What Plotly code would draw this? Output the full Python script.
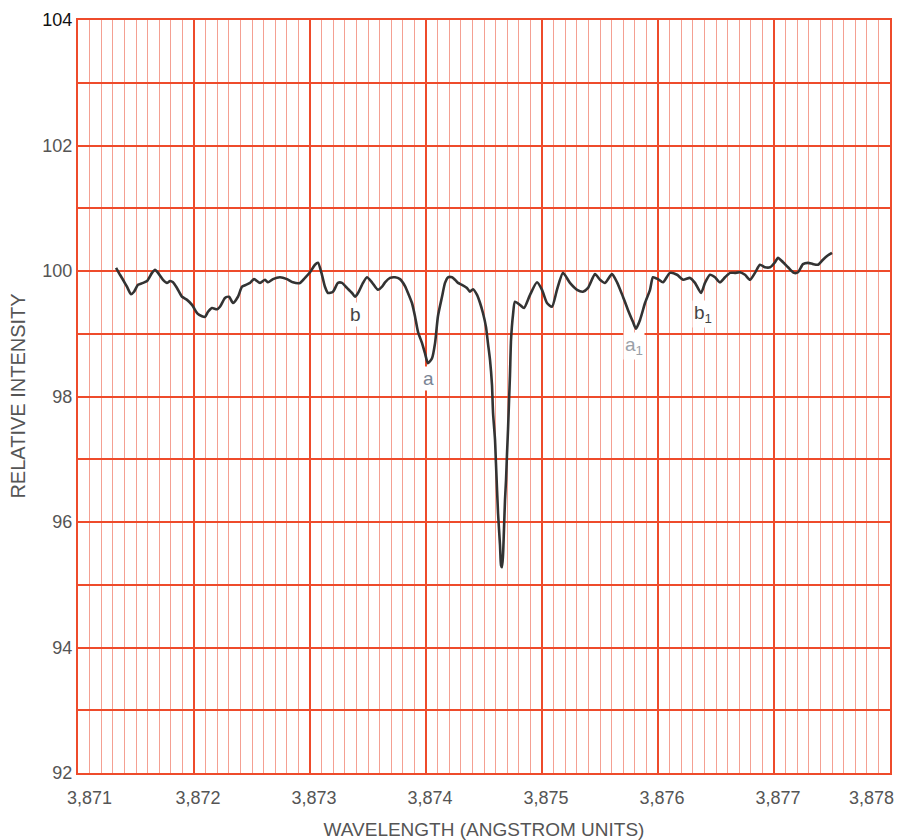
import plotly.graph_objects as go

# Wavelength (Angstrom) and relative intensity of the traced spectrum
wavelength = [
    3871.328, 3871.362, 3871.388, 3871.422, 3871.457, 3871.483, 3871.517, 3871.560, 3871.595, 3871.638,
    3871.664, 3871.690, 3871.733, 3871.767, 3871.793, 3871.819, 3871.853, 3871.897, 3871.940, 3871.983,
    3872.026, 3872.069, 3872.095, 3872.121, 3872.155, 3872.198, 3872.224, 3872.267, 3872.302, 3872.336,
    3872.379, 3872.414, 3872.448, 3872.483, 3872.517, 3872.569, 3872.612, 3872.638, 3872.681, 3872.741,
    3872.802, 3872.853, 3872.914, 3872.957, 3873.000, 3873.043, 3873.069, 3873.103, 3873.129, 3873.155,
    3873.198, 3873.241, 3873.276, 3873.319, 3873.362, 3873.388, 3873.414, 3873.457, 3873.491, 3873.534,
    3873.586, 3873.621, 3873.647, 3873.690, 3873.733, 3873.776, 3873.819, 3873.845, 3873.879, 3873.905,
    3873.931, 3873.966, 3873.991, 3874.017, 3874.052, 3874.078, 3874.103, 3874.138, 3874.164, 3874.190,
    3874.224, 3874.250, 3874.276, 3874.310, 3874.353, 3874.379, 3874.405, 3874.440, 3874.466, 3874.491,
    3874.517, 3874.534, 3874.552, 3874.569, 3874.578, 3874.595, 3874.603, 3874.621, 3874.638, 3874.647,
    3874.655, 3874.664, 3874.672, 3874.681, 3874.690, 3874.698, 3874.707, 3874.716, 3874.724, 3874.733,
    3874.750, 3874.767, 3874.810, 3874.845, 3874.897, 3874.957, 3875.000, 3875.043, 3875.086, 3875.129,
    3875.181, 3875.241, 3875.302, 3875.353, 3875.397, 3875.457, 3875.500, 3875.543, 3875.603, 3875.647,
    3875.698, 3875.741, 3875.784, 3875.810, 3875.845, 3875.888, 3875.931, 3875.957, 3876.000, 3876.043,
    3876.103, 3876.164, 3876.216, 3876.276, 3876.319, 3876.371, 3876.405, 3876.448, 3876.491, 3876.534,
    3876.578, 3876.621, 3876.664, 3876.707, 3876.750, 3876.793, 3876.836, 3876.879, 3876.922, 3876.966,
    3877.009, 3877.034, 3877.078, 3877.121, 3877.172, 3877.207, 3877.250, 3877.293, 3877.336, 3877.379,
    3877.422, 3877.466, 3877.500,
]
intensity = [
    100.05, 99.94, 99.86, 99.75, 99.63, 99.67, 99.78, 99.81, 99.84, 99.97,
    100.02, 99.97, 99.86, 99.81, 99.84, 99.82, 99.73, 99.59, 99.54, 99.46,
    99.33, 99.28, 99.27, 99.35, 99.41, 99.39, 99.43, 99.57, 99.59, 99.49,
    99.59, 99.75, 99.78, 99.81, 99.87, 99.81, 99.86, 99.82, 99.87, 99.90,
    99.87, 99.82, 99.81, 99.89, 99.98, 100.10, 100.13, 99.94, 99.75, 99.65,
    99.67, 99.81, 99.81, 99.73, 99.65, 99.59, 99.65, 99.81, 99.90, 99.82,
    99.70, 99.75, 99.82, 99.89, 99.90, 99.87, 99.76, 99.65, 99.49, 99.28,
    99.03, 98.85, 98.69, 98.53, 98.61, 98.85, 99.28, 99.59, 99.81, 99.90,
    99.90, 99.86, 99.81, 99.78, 99.73, 99.67, 99.71, 99.62, 99.49, 99.33,
    99.11, 98.85, 98.58, 98.18, 97.74, 97.31, 96.94, 96.14, 95.63, 95.31,
    95.28, 95.47, 95.87, 96.35, 96.67, 97.07, 97.47, 97.94, 98.34, 98.90,
    99.30, 99.51, 99.46, 99.41, 99.62, 99.82, 99.70, 99.49, 99.43, 99.70,
    99.97, 99.81, 99.70, 99.67, 99.73, 99.95, 99.86, 99.81, 99.95, 99.82,
    99.59, 99.38, 99.19, 99.08, 99.22, 99.49, 99.70, 99.90, 99.87, 99.82,
    99.97, 99.94, 99.86, 99.89, 99.81, 99.65, 99.81, 99.94, 99.90, 99.82,
    99.90, 99.97, 99.97, 99.98, 99.94, 99.86, 99.97, 100.10, 100.06, 100.06,
    100.14, 100.21, 100.14, 100.06, 99.97, 99.98, 100.11, 100.13, 100.11, 100.10,
    100.18, 100.25, 100.29,
]

# Axis ticks
x_tickvals = [3871, 3872, 3873, 3874, 3875, 3876, 3877, 3878]
x_ticktext = ["\u00a0\u00a0\u00a03,871", "3,872", "3,873", "3,874", "3,875", "3,876", "3,877",
              "3,878" + "\u00a0" * 9]
y_tickvals = [92, 94, 96, 98, 100, 102, 104]
y_ticktext = ["92", "94", "96", "98", "100", "102", '<span style="color:#111">104</span>']

# Line labels
label_text = ["b", "a", "a<sub>1</sub>", "b<sub>1</sub>"]
label_x = [3873.39, 3874.02, 3875.79, 3876.39]
label_y = [99.30, 98.29, 98.80, 99.31]
label_color = ["#444444", "#7a8494", "#9aa0a8", "#444444"]

GRID = "#ee4b2b"
MINOR = "#f4a092"
FONT = "Liberation Sans, Arial, sans-serif"

fig = go.Figure()
fig.add_trace(go.Scatter(
    x=wavelength, y=intensity, mode="lines",
    line=dict(color="#333333", width=2.6, shape="spline", smoothing=0.6),
    hoverinfo="skip", showlegend=False,
))

for t, x, y, c in zip(label_text, label_x, label_y, label_color):
    fig.add_annotation(x=x, y=y, text=t, showarrow=False,
                       font=dict(family=FONT, size=19, color=c),
                       bgcolor="white", borderpad=1)

# y-axis title, placed further left than an axis title can go
fig.add_annotation(x=-0.075, y=0.5, xref="paper", yref="paper",
                   text="RELATIVE INTENSITY", textangle=-90, showarrow=False,
                   xanchor="center", yanchor="middle",
                   font=dict(family=FONT, size=20, color="#555555"))

# the page body adds an 8px offset, so the figure is sized to fit the 905x840 window
fig.update_layout(
    width=897, height=832,
    margin=dict(l=70, r=15, t=12, b=67),
    paper_bgcolor="white", plot_bgcolor="white",
    font=dict(family=FONT, color="#555555", size=18),
    xaxis=dict(
        range=[3871, 3878], tickvals=x_tickvals, ticktext=x_ticktext,
        automargin=False, ticklabeloverflow="allow",
        showgrid=True, gridcolor=GRID, gridwidth=2,
        minor=dict(dtick=0.1, tick0=3871, showgrid=True, gridcolor=MINOR, gridwidth=1.2),
        showline=True, linecolor=GRID, linewidth=2, mirror=True,
        zeroline=False, ticks="", ticklabelshift=4, ticklabelstandoff=7,
        tickfont=dict(size=18, color="#555555"),
        title=dict(text="WAVELENGTH (ANGSTROM UNITS)", standoff=22,
                   font=dict(size=19, color="#555555")),
    ),
    yaxis=dict(
        range=[92, 104], tickvals=y_tickvals, ticktext=y_ticktext,
        automargin=False,
        showgrid=True, gridcolor=GRID, gridwidth=2,
        minor=dict(dtick=1, tick0=92, showgrid=True, gridcolor=GRID, gridwidth=2),
        showline=True, linecolor=GRID, linewidth=2, mirror=True,
        zeroline=False, ticks="",
        tickfont=dict(size=18, color="#555555"),
    ),
)

fig.write_html("out.html")
